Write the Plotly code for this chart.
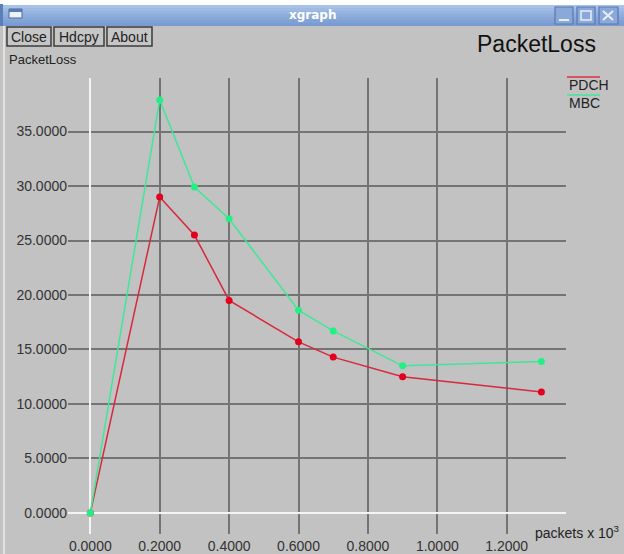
import plotly.graph_objects as go

# ---- data ----
packets = [0.0, 0.2, 0.3, 0.4, 0.6, 0.7, 0.9, 1.3]
pdch = [0.0, 29.0, 25.5, 19.5, 15.7, 14.3, 12.5, 11.1]
mbc = [0.0, 37.9, 29.9, 27.0, 18.6, 16.7, 13.5, 13.9]
x_ticks = [0.0, 0.2, 0.4, 0.6, 0.8, 1.0, 1.2]
y_ticks = [0, 5, 10, 15, 20, 25, 30, 35]
x_ticktext = ["%.4f" % v for v in x_ticks]
y_ticktext = ["%.4f" % v for v in y_ticks]

W, H = 624, 554
L, R, T, B = 68, 58, 78, 20
PW, PH = W - L - R, H - T - B
BG = "#c2c2c2"
FONT = "Liberation Sans, Arial, sans-serif"


def px(x):
    return (x - L) / PW


def py(y):
    return (H - B - y) / PH


def text(s, x, y, size, color="#222222", xanchor="center", family=FONT):
    return dict(text=s, xref="paper", yref="paper", x=px(x), y=py(y),
                xanchor=xanchor, yanchor="middle", showarrow=False,
                font=dict(family=family, size=size, color=color))


fig = go.Figure()
fig.add_trace(go.Scatter(x=packets, y=pdch, mode="lines+markers", name="PDCH",
                         line=dict(color="#d8283c", width=1.5),
                         marker=dict(color="#e4001c", size=7), showlegend=False))
fig.add_trace(go.Scatter(x=packets, y=mbc, mode="lines+markers", name="MBC",
                         line=dict(color="#3ee898", width=1.5),
                         marker=dict(color="#22f084", size=7), showlegend=False))

shapes = []
annotations = []

# window title bar (gradient)
top, bot = 5, 26
blues = ["#a8c2e8", "#9fbbe4", "#96b4e0", "#8eaddc", "#87a7d8", "#80a1d5", "#7a9cd2"]
n = len(blues)
for i, c in enumerate(blues):
    y0 = top + (bot - top) * i / n
    y1 = top + (bot - top) * (i + 1) / n
    shapes.append(dict(type="rect", xref="paper", yref="paper", x0=px(0), x1=px(W),
                       y0=py(y1), y1=py(y0), fillcolor=c, line_width=0, layer="above"))
shapes.append(dict(type="rect", xref="paper", yref="paper", x0=px(0), x1=px(W),
                   y0=py(5), y1=py(0), fillcolor="#ffffff", line_width=0, layer="above"))
# left frame piece + icon
shapes.append(dict(type="rect", xref="paper", yref="paper", x0=px(0), x1=px(3),
                   y0=py(26), y1=py(4), fillcolor="#5b7fb8", line_width=0, layer="above"))
shapes.append(dict(type="rect", xref="paper", yref="paper", x0=px(9), x1=px(22),
                   y0=py(18), y1=py(9), fillcolor="#eef2fa",
                   line=dict(color="#4a6aa0", width=1), layer="above"))
shapes.append(dict(type="rect", xref="paper", yref="paper", x0=px(9), x1=px(22),
                   y0=py(12), y1=py(9), fillcolor="#5a7ab4", line_width=0, layer="above"))
# window control buttons
for x0, x1 in [(555, 573), (577, 595), (599, 618)]:
    shapes.append(dict(type="rect", xref="paper", yref="paper", x0=px(x0), x1=px(x1),
                       y0=py(24), y1=py(7), fillcolor="#8aa8d8",
                       line=dict(color="#5878b0", width=1.2), layer="above"))
shapes.append(dict(type="line", xref="paper", yref="paper", x0=px(559), x1=px(569),
                   y0=py(20), y1=py(20), line=dict(color="#e8eef8", width=2), layer="above"))
shapes.append(dict(type="rect", xref="paper", yref="paper", x0=px(581), x1=px(591),
                   y0=py(20), y1=py(11), line=dict(color="#e8eef8", width=1.5), layer="above"))
shapes.append(dict(type="line", xref="paper", yref="paper", x0=px(603), x1=px(613),
                   y0=py(20), y1=py(11), line=dict(color="#e8eef8", width=2), layer="above"))
shapes.append(dict(type="line", xref="paper", yref="paper", x0=px(603), x1=px(613),
                   y0=py(11), y1=py(20), line=dict(color="#e8eef8", width=2), layer="above"))
annotations.append(text("<b>xgraph</b>", 312, 15, 12, "#ffffff",
                        family="DejaVu Sans, sans-serif"))

# left light frame line
shapes.append(dict(type="line", xref="paper", yref="paper", x0=px(4), x1=px(4),
                   y0=py(H), y1=py(26), line=dict(color="#ececec", width=1.5), layer="above"))

# xgraph buttons
for label, x0, x1 in [("Close", 7, 51), ("Hdcpy", 54, 104), ("About", 107, 152)]:
    shapes.append(dict(type="rect", xref="paper", yref="paper", x0=px(x0), x1=px(x1),
                       y0=py(46), y1=py(27), fillcolor="#c6c6c6",
                       line=dict(color="#3c3c3c", width=1.5), layer="above"))
    annotations.append(text(label, (x0 + x1) / 2, 36.5, 14))

# title and axis labels
annotations.append(text("PacketLoss", 598, 44, 23, "#111111", xanchor="right"))
annotations.append(text("PacketLoss", 7, 60, 13, xanchor="left"))
annotations.append(text("packets x 10<sup>3</sup>", 533, 532, 14, xanchor="left"))

# legend (line above each label)
for name, color, ytxt in [("PDCH", "#e23040", 85), ("MBC", "#3ee898", 103)]:
    shapes.append(dict(type="line", xref="paper", yref="paper", x0=px(567), x1=px(600),
                       y0=py(ytxt - 8), y1=py(ytxt - 8), line=dict(color=color, width=1.5),
                       layer="above"))
    annotations.append(text(name, 567, ytxt, 14, xanchor="left"))

fig.update_layout(
    width=W, height=H, autosize=False,
    margin=dict(l=L, r=R, t=T, b=B, pad=0, autoexpand=False),
    paper_bgcolor=BG, plot_bgcolor=BG,
    shapes=shapes, annotations=annotations,
    font=dict(family=FONT, size=14, color="#333333"),
    xaxis=dict(range=[-0.0643, 1.3709], tickvals=x_ticks, ticktext=x_ticktext,
               showgrid=True, gridcolor="#747474", gridwidth=2,
               zeroline=True, zerolinecolor="#f4f4f4", zerolinewidth=2,
               showline=False, ticks="", ticklabelstandoff=2, automargin=False,
               tickfont=dict(size=14, color="#333333")),
    yaxis=dict(range=[-1.93, 39.91], tickvals=y_ticks, ticktext=y_ticktext,
               showgrid=True, gridcolor="#747474", gridwidth=2,
               zeroline=True, zerolinecolor="#f4f4f4", zerolinewidth=2,
               showline=False, ticks="", automargin=False,
               tickfont=dict(size=14, color="#333333")),
)

fig.write_html("out.html",
               config={"displayModeBar": False, "responsive": False},
               post_script="document.body.style.margin='0px';"
                           "document.body.style.overflow='hidden';")
